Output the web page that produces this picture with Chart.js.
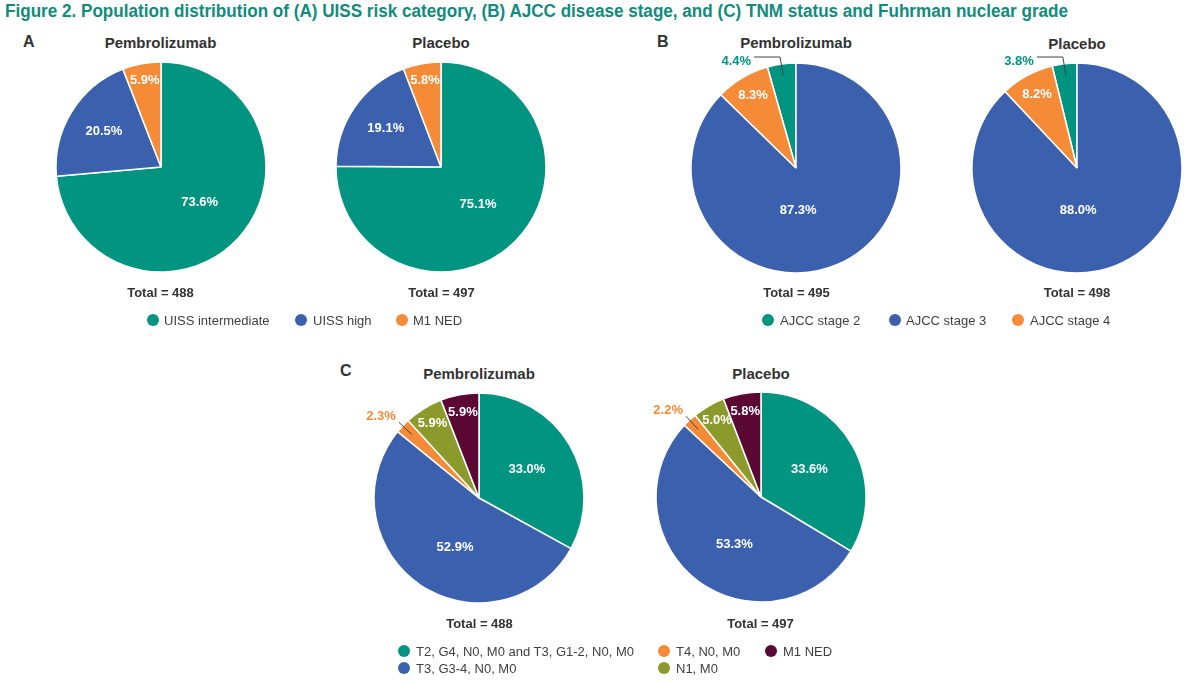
<!DOCTYPE html>
<html>
<head>
<meta charset="utf-8">
<script src="https://cdn.jsdelivr.net/npm/chart.js@4.4.1/dist/chart.umd.min.js"></script>
<style>
  html, body { margin: 0; padding: 0; background: #fff; }
  #page { position: relative; width: 1200px; height: 683px; overflow: hidden; font-family: "Liberation Sans", Arial, sans-serif; }
  .t { position: absolute; white-space: nowrap; line-height: 1; transform: translate(-50%, -50%); }
  .title { position: absolute; left: 5px; top: 2px; white-space: nowrap; font-family: "Liberation Sans Narrow", "Arial Narrow", "Liberation Sans", Arial, sans-serif; font-weight: bold; font-size: 18px; color: #0f8c7b; transform-origin: left top; line-height: 1; }
  .arm { font-weight: bold; font-size: 15px; color: #333; }
  .panel { font-weight: bold; font-size: 16px; color: #333; transform: translate(0, -50%); }
  .total { font-weight: bold; font-size: 13px; color: #333; }
  .leg { position: absolute; white-space: nowrap; font-size: 13px; color: #404040; line-height: 1; transform: translate(0, -50%); }
  .dot { position: absolute; width: 12px; height: 12px; border-radius: 50%; transform: translate(-50%, -50%); }
  canvas { position: absolute; }
</style>
</head>
<body>
<div id="page">
  <div class="title" id="title">Figure 2. Population distribution of (A) UISS risk category, (B) AJCC disease stage, and (C) TNM status and Fuhrman nuclear grade</div>
</div>
<script>
// ---- data ----
const armLabels = ['Pembrolizumab', 'Placebo'];

const uissLabels = ['UISS intermediate', 'UISS high', 'M1 NED'];
const uissPembro = [73.6, 20.5, 5.9];
const uissPlacebo = [75.1, 19.1, 5.8];
const uissTotals = [488, 497];

const ajccLabels = ['AJCC stage 2', 'AJCC stage 3', 'AJCC stage 4'];
const ajccPembro = [4.4, 87.3, 8.3];
const ajccPlacebo = [3.8, 88.0, 8.2];
const ajccTotals = [495, 498];

const tnmLabels = ['T2, G4, N0, M0 and T3, G1-2, N0, M0', 'T3, G3-4, N0, M0', 'T4, N0, M0', 'N1, M0', 'M1 NED'];
const tnmPembro = [33.0, 52.9, 2.3, 5.9, 5.9];
const tnmPlacebo = [33.6, 53.3, 2.2, 5.0, 5.8];
const tnmTotals = [488, 497];

// ---- styles ----
const TEAL = '#009481', BLUE = '#3b61ae', ORANGE = '#f68b37', OLIVE = '#8b9a2b', MAROON = '#5c0834';
const uissColors = [TEAL, BLUE, ORANGE];
const ajccColors = [TEAL, BLUE, ORANGE];
const tnmColors = [TEAL, BLUE, ORANGE, OLIVE, MAROON];

const uissLabelPos = [{r: 0.5}, {r: 0.64}, {r: 0.84}];
const ajccLabelPos = [{out: 'elbow'}, {r: 0.4, da: 20}, {r: 0.8}];
const tnmLabelPos = [{r: 0.53}, {r: 0.52, da: -8}, {out: 'diag'}, {r: 0.84}, {r: 0.83}];

const page = document.getElementById('page');
function addText(cls, txt, x, y) {
  const d = document.createElement('div');
  d.className = cls; d.textContent = txt;
  d.style.left = x + 'px'; d.style.top = y + 'px';
  page.appendChild(d); return d;
}
function addDot(color, x, y) {
  const d = document.createElement('div');
  d.className = 'dot'; d.style.background = color;
  d.style.left = x + 'px'; d.style.top = y + 'px';
  page.appendChild(d);
}

const labelPlugin = {
  id: 'sliceLabels',
  afterDatasetsDraw(chart) {
    const ctx = chart.ctx;
    const meta = chart.getDatasetMeta(0);
    const data = chart.data.datasets[0].data;
    const pos = chart.options.plugins.sliceLabels.pos;
    const cols = chart.data.datasets[0].backgroundColor;
    ctx.save();
    ctx.font = 'bold 13px "Liberation Sans", Arial, sans-serif';
    ctx.textBaseline = 'middle';
    meta.data.forEach((arc, i) => {
      const p = arc.getProps(['x', 'y', 'startAngle', 'endAngle', 'outerRadius'], true);
      const mid = (p.startAngle + p.endAngle) / 2;
      const R = p.outerRadius;
      const txt = data[i].toFixed(1) + '%';
      const cfg = pos[i];
      if (cfg.out === 'elbow') {
        const ix = p.x + Math.cos(mid) * R * 0.89, iy = p.y + Math.sin(mid) * R * 0.89;
        const hy = p.y - R - 6;
        ctx.strokeStyle = '#444'; ctx.lineWidth = 1;
        ctx.beginPath();
        ctx.moveTo(ix, iy); ctx.lineTo(ix - 3, hy); ctx.lineTo(ix - 29, hy);
        ctx.stroke();
        ctx.fillStyle = cols[i]; ctx.textAlign = 'right';
        ctx.fillText(txt, ix - 32, hy + 4);
      } else if (cfg.out === 'diag') {
        const ix = p.x + Math.cos(mid) * R * 0.88, iy = p.y + Math.sin(mid) * R * 0.88;
        const ox = p.x + Math.cos(mid) * R * 1.05, oy = p.y + Math.sin(mid) * R * 1.05;
        ctx.strokeStyle = '#444'; ctx.lineWidth = 1;
        ctx.beginPath(); ctx.moveTo(ix, iy); ctx.lineTo(ox, oy); ctx.stroke();
        ctx.fillStyle = cols[i]; ctx.textAlign = 'right';
        ctx.fillText(txt, ox - 3, oy - 6);
      } else {
        const a = mid + (cfg.da || 0) * Math.PI / 180;
        ctx.fillStyle = '#fff'; ctx.textAlign = 'center';
        ctx.fillText(txt, p.x + Math.cos(a) * R * cfg.r, p.y + Math.sin(a) * R * cfg.r);
      }
    });
    ctx.restore();
  }
};

function makePie(cx, cy, labels, values, colors, labelPos, rotation) {
  const W = 300, H = 260;
  const c = document.createElement('canvas');
  c.width = W; c.height = H;
  c.style.width = W + 'px'; c.style.height = H + 'px';
  c.style.left = (cx - W / 2) + 'px'; c.style.top = (cy - H / 2) + 'px';
  page.appendChild(c);
  new Chart(c, {
    type: 'pie',
    data: { labels: labels, datasets: [{ data: values, backgroundColor: colors, borderColor: '#ffffff', borderWidth: 1.5 }] },
    options: {
      responsive: false, animation: false, devicePixelRatio: 1,
      radius: 105, rotation: rotation || 0,
      layout: { padding: 0 },
      plugins: { legend: { display: false }, tooltip: { enabled: false }, sliceLabels: { pos: labelPos } }
    },
    plugins: [labelPlugin]
  });
}

// Panel A
addText('t panel', 'A', 23, 42).style.transform = 'translate(0,-50%)';
addText('t arm', armLabels[0], 160.5, 42);
addText('t arm', armLabels[1], 441, 42);
makePie(160.5, 167, uissLabels, uissPembro, uissColors, uissLabelPos, 0);
makePie(441, 167, uissLabels, uissPlacebo, uissColors, uissLabelPos, 0);
addText('t total', 'Total = ' + uissTotals[0], 160.5, 292);
addText('t total', 'Total = ' + uissTotals[1], 441.5, 292);
[[153, 164], [301, 313], [402, 413]].forEach((p, i) => {
  addDot(uissColors[i], p[0], 320);
  addText('leg', uissLabels[i], p[1], 320);
});

// Panel B
addText('t panel', 'B', 657, 42).style.transform = 'translate(0,-50%)';
addText('t arm', armLabels[0], 796, 42);
addText('t arm', armLabels[1], 1077, 43);
makePie(796, 167.5, ajccLabels, ajccPembro, ajccColors, ajccLabelPos, -ajccPembro[0] / 100 * 360);
makePie(1077, 167.5, ajccLabels, ajccPlacebo, ajccColors, ajccLabelPos, -ajccPlacebo[0] / 100 * 360);
addText('t total', 'Total = ' + ajccTotals[0], 796.5, 292);
addText('t total', 'Total = ' + ajccTotals[1], 1077, 292);
[[768, 780], [895, 906], [1018, 1030]].forEach((p, i) => {
  addDot(ajccColors[i], p[0], 320);
  addText('leg', ajccLabels[i], p[1], 320);
});

// Panel C
addText('t panel', 'C', 340, 371).style.transform = 'translate(0,-50%)';
addText('t arm', armLabels[0], 479, 373);
addText('t arm', armLabels[1], 761, 373);
makePie(479, 497.5, tnmLabels, tnmPembro, tnmColors, tnmLabelPos, 0);
makePie(760.5, 497, tnmLabels, tnmPlacebo, tnmColors, tnmLabelPos, 0);
addText('t total', 'Total = ' + tnmTotals[0], 479.5, 623);
addText('t total', 'Total = ' + tnmTotals[1], 760.5, 623);
const tnmLegPos = [[404, 416, 651], [404, 416, 668], [664, 676, 651], [664, 676, 668], [771, 783, 651]];
tnmLegPos.forEach((p, i) => {
  addDot(tnmColors[i], p[0], p[2]);
  addText('leg', tnmLabels[i], p[1], p[2]);
});

// fit title width
const tt = document.getElementById('title');
const w = tt.getBoundingClientRect().width;
tt.style.transform = 'scaleX(' + (1063 / w) + ')';
</script>
</body>
</html>
